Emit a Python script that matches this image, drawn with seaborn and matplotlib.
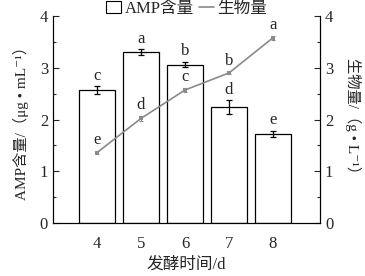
import matplotlib
matplotlib.use("Agg")
import matplotlib.pyplot as plt
import seaborn as sns
import pandas as pd
import numpy as np
from matplotlib.patches import Patch
from matplotlib.lines import Line2D
from matplotlib.ticker import MultipleLocator

days = ["4", "5", "6", "7", "8"]
amp = [2.57, 3.30, 3.06, 2.24, 1.72]
amp_err = [0.07, 0.06, 0.05, 0.13, 0.06]
amp_letters = ["c", "a", "b", "d", "e"]
bio = [1.36, 2.02, 2.57, 2.90, 3.58]
bio_err = [0.03, 0.05, 0.04, 0.03, 0.04]
bio_letters = ["e", "d", "c", "b", "a"]

sns.set_theme(style="ticks")
fam = ["Liberation Serif", "Noto Sans CJK SC", "DejaVu Serif", "DejaVu Sans"]
plt.rcParams["font.family"] = fam
plt.rcParams["axes.unicode_minus"] = False

fig = plt.figure(figsize=(3.65, 2.76), dpi=100)
ax = fig.add_axes([0.145, 0.192, 0.732, 0.750])
df = pd.DataFrame({"day": days, "amp": amp})
sns.barplot(data=df, x="day", y="amp", ax=ax, color="white", edgecolor="black",
            linewidth=0.9, width=0.81, errorbar=None, saturation=1)
x = np.arange(len(days))
ax.errorbar(x, amp, yerr=amp_err, fmt="none", ecolor="black", elinewidth=0.9,
            capsize=2, capthick=0.9)
for xi, v, e, t in zip(x, amp, amp_err, amp_letters):
    ax.text(xi, v + e + 0.05, t, ha="center", va="bottom", fontsize=12)

ax2 = ax.twinx()
dfb = pd.DataFrame({"idx": x, "bio": bio})
sns.lineplot(data=dfb, x="idx", y="bio", ax=ax2, color="#8a8a8a", lw=1.2,
             marker="s", markersize=3, markeredgewidth=0)
ax2.errorbar(x, bio, yerr=bio_err, fmt="none", ecolor="#8a8a8a", elinewidth=0.8,
             capsize=1.5, capthick=0.8)
for xi, v, e, t in zip(x, bio, bio_err, bio_letters):
    ax2.text(xi, v + e + 0.05, t, ha="center", va="bottom", fontsize=12)

for a in (ax, ax2):
    a.set_ylim(0, 4)
    a.yaxis.set_major_locator(MultipleLocator(1))
    a.yaxis.set_minor_locator(MultipleLocator(0.5))
    a.tick_params(axis="y", which="both", direction="in", labelsize=12)
    a.tick_params(axis="y", which="major", length=4, width=0.8)
    a.tick_params(axis="y", which="minor", length=2.5, width=0.8)
    a.spines["top"].set_visible(False)
    for s in a.spines.values():
        s.set_linewidth(0.8)
        s.set_color("black")
ax.set_xlim(-1.0, 5.07)
ax.tick_params(axis="x", direction="in", length=3, width=0.8, labelsize=12, pad=9)
ax.set_xlabel("发酵时间/d", fontsize=12, labelpad=4)
ax.set_ylabel("AMP含量/（μg • mL⁻¹）", fontsize=11, labelpad=8)
ax2.set_xlabel("")
ax2.set_ylabel("生物量/（g • L⁻¹）", fontsize=11, rotation=270, labelpad=20)

handles = [Patch(facecolor="white", edgecolor="black", linewidth=0.8),
           Line2D([0], [0], color="#8a8a8a", lw=1.2)]
ax.legend(handles, ["AMP含量", "生物量"], loc="center", bbox_to_anchor=(0.5, 1.035),
          ncol=2, frameon=False, fontsize=12, handlelength=0.9, handleheight=0.8,
          handletextpad=0.2, columnspacing=0.3, borderpad=0)

fig.savefig("out.png", dpi=100)
